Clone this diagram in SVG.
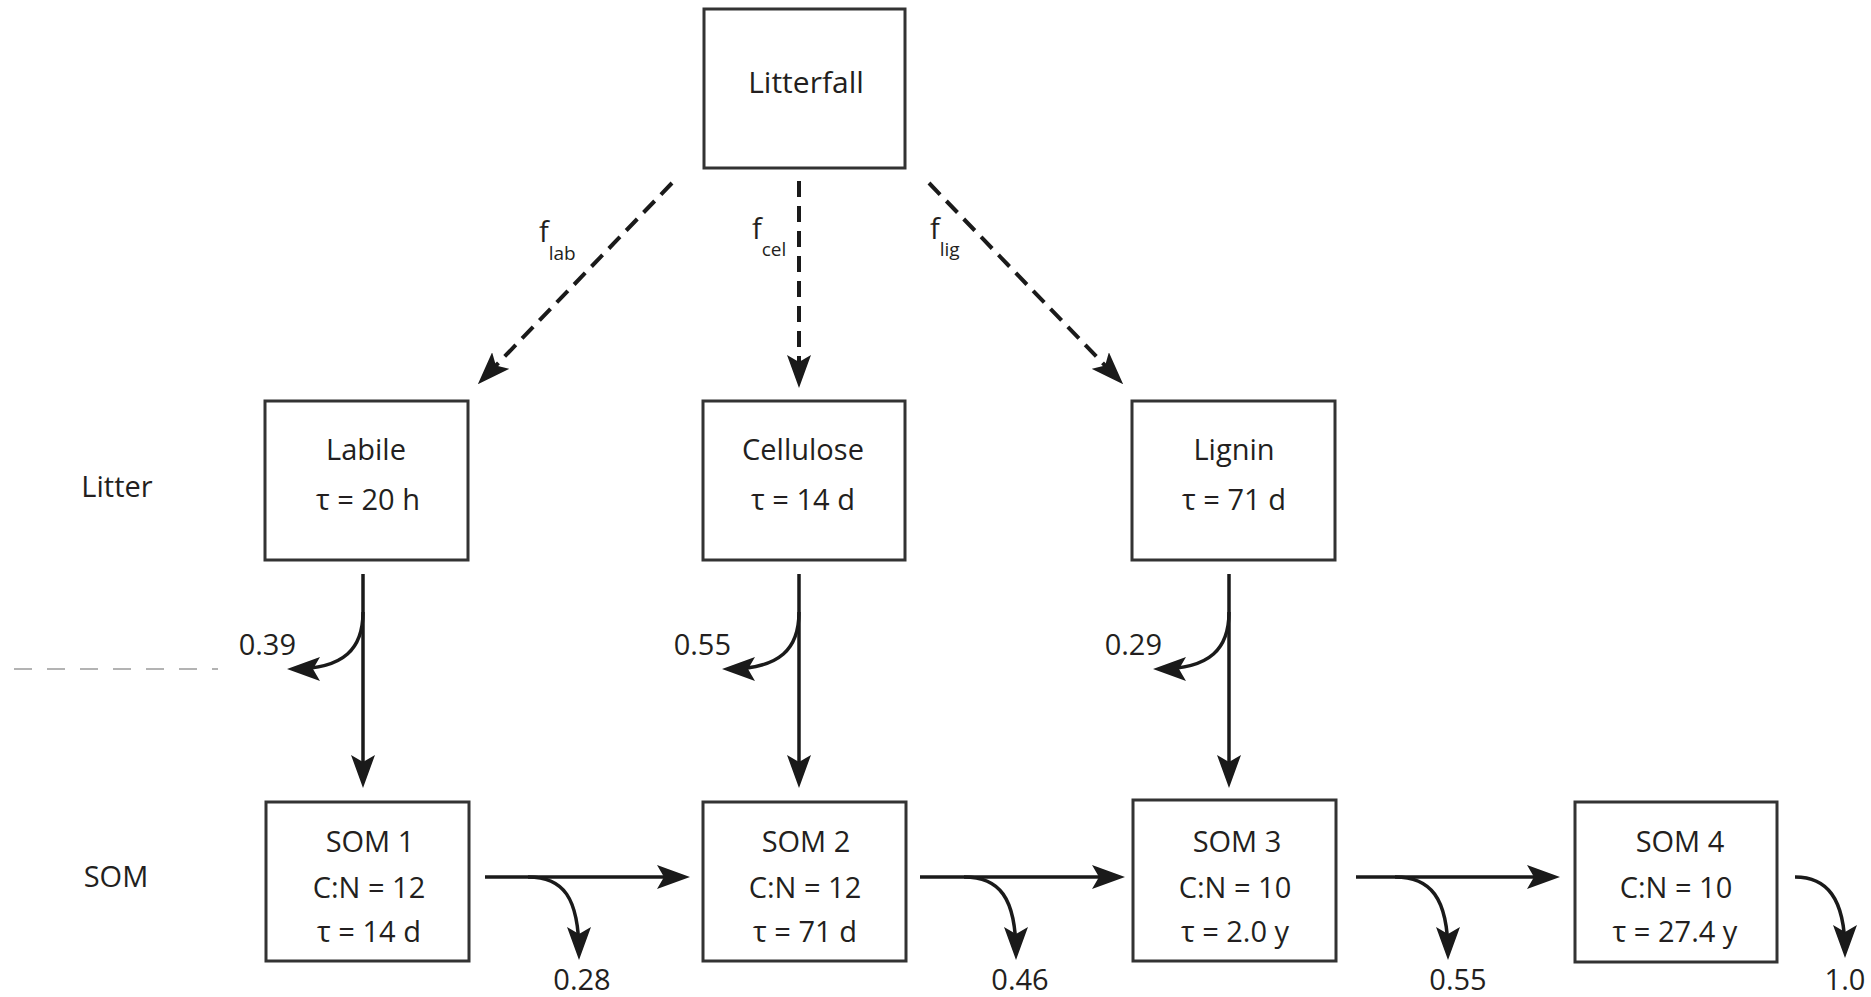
<svg xmlns="http://www.w3.org/2000/svg" width="1871" height="997" viewBox="0 0 1871 997">
<style>
  .box { fill: #ffffff; stroke: #333333; stroke-width: 3; }
  .t { font-family: "Open Sans", "Noto Sans", "Liberation Sans", sans-serif; font-size: 29px; fill: #231f20; text-anchor: middle; }
  .te { font-family: "Open Sans", "Noto Sans", "Liberation Sans", sans-serif; font-size: 29px; fill: #231f20; text-anchor: end; }
  .f { font-family: "Open Sans", "Noto Sans", "Liberation Sans", sans-serif; font-size: 29px; fill: #231f20; }
  .sub { font-size: 19px; }
  .solid { fill: none; stroke: #1a1a1a; stroke-width: 3.5; marker-end: url(#ah); }
  .dash { fill: none; stroke: #1a1a1a; stroke-width: 4; stroke-dasharray: 16 9; marker-end: url(#ah); }
  .grey { fill: none; stroke: #9a9a9a; stroke-width: 1.6; stroke-dasharray: 18 15; }
</style>
<defs>
  <marker id="ah" viewBox="0 0 33 24" markerWidth="33" markerHeight="24" refX="27" refY="12" markerUnits="userSpaceOnUse" orient="auto">
    <path d="M0,0 L33,12 L0,24 L7,12 Z" fill="#1a1a1a"/>
  </marker>
</defs>
<rect width="1871" height="997" fill="#ffffff"/>

<g id="litterfall">
  <rect class="box" x="704" y="9" width="201" height="159"/>
  <text class="t" x="806" y="93" style="font-size:30px">Litterfall</text>
</g>

<g id="labile">
  <rect class="box" x="265" y="401" width="203" height="159"/>
  <text class="t" x="366" y="460">Labile</text>
  <text class="t" x="368" y="510">τ = 20 h</text>
</g>
<g id="cellulose">
  <rect class="box" x="703" y="401" width="202" height="159"/>
  <text class="t" x="803" y="460">Cellulose</text>
  <text class="t" x="803" y="510">τ = 14 d</text>
</g>
<g id="lignin">
  <rect class="box" x="1132" y="401" width="203" height="159"/>
  <text class="t" x="1234" y="460">Lignin</text>
  <text class="t" x="1234" y="510">τ = 71 d</text>
</g>

<g id="som1">
  <rect class="box" x="266" y="802" width="203" height="159"/>
  <text class="t" x="370" y="852">SOM 1</text>
  <text class="t" x="369" y="898">C:N = 12</text>
  <text class="t" x="369" y="942">τ = 14 d</text>
</g>
<g id="som2">
  <rect class="box" x="703" y="802" width="203" height="159"/>
  <text class="t" x="806" y="852">SOM 2</text>
  <text class="t" x="805" y="898">C:N = 12</text>
  <text class="t" x="805" y="942">τ = 71 d</text>
</g>
<g id="som3">
  <rect class="box" x="1133" y="800" width="203" height="161"/>
  <text class="t" x="1237" y="852">SOM 3</text>
  <text class="t" x="1235" y="898">C:N = 10</text>
  <text class="t" x="1235" y="942">τ = 2.0 y</text>
</g>
<g id="som4">
  <rect class="box" x="1575" y="802" width="202" height="160"/>
  <text class="t" x="1680" y="852">SOM 4</text>
  <text class="t" x="1676" y="898">C:N = 10</text>
  <text class="t" x="1675" y="942">τ = 27.4 y</text>
</g>

<g id="labels">
  <text class="t" x="117" y="497">Litter</text>
  <text class="t" x="116" y="887">SOM</text>
  <text class="f" x="539" y="242">f<tspan class="sub" dy="18">lab</tspan></text>
  <text class="f" x="752" y="239">f<tspan class="sub" dy="17">cel</tspan></text>
  <text class="f" x="930" y="239">f<tspan class="sub" dy="17">lig</tspan></text>
  <text class="te" x="296" y="655">0.39</text>
  <text class="te" x="731" y="655">0.55</text>
  <text class="te" x="1162" y="655">0.29</text>
  <text class="t" x="582" y="990">0.28</text>
  <text class="t" x="1020" y="990">0.46</text>
  <text class="t" x="1458" y="990">0.55</text>
  <text class="t" x="1845" y="990">1.0</text>
</g>

<g id="connectors">
  <path class="dash" d="M672,183 L482,380"/>
  <path class="dash" d="M799,181 L799,382"/>
  <path class="dash" d="M929,183 L1119,380"/>

  <path class="solid" d="M363,574 L363,782"/>
  <path class="solid" d="M799,574 L799,782"/>
  <path class="solid" d="M1229,574 L1229,782"/>

  <path class="solid" d="M363,612 C363,648 345,669 293,669"/>
  <path class="solid" d="M799,612 C799,648 781,669 728,669"/>
  <path class="solid" d="M1229,612 C1229,648 1211,669 1159,669"/>

  <path class="solid" d="M485,877 L684,877"/>
  <path class="solid" d="M920,877 L1119,877"/>
  <path class="solid" d="M1356,877 L1554,877"/>

  <path class="solid" d="M528,877 C563,877 579,897 579,954"/>
  <path class="solid" d="M964,877 C999,877 1016,897 1016,954"/>
  <path class="solid" d="M1395,877 C1430,877 1448,897 1448,954"/>
  <path class="solid" d="M1795,877 C1826,877 1845,897 1845,952"/>

  <path class="grey" d="M14,669 L218,669"/>
</g>
</svg>
